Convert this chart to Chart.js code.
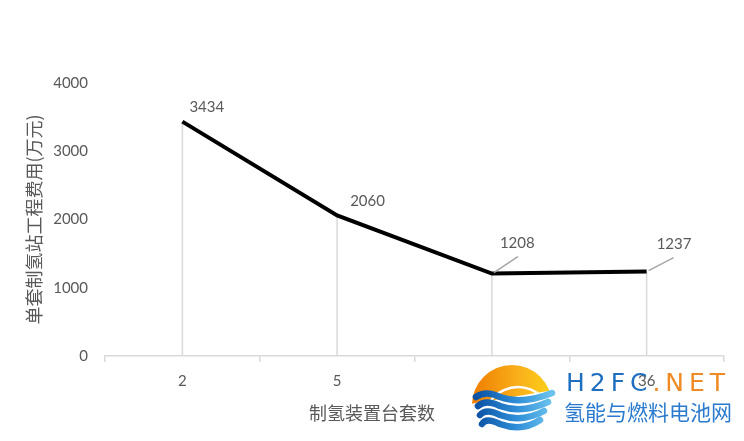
<!DOCTYPE html>
<html>
<head>
<meta charset="utf-8">
<script src="https://cdn.jsdelivr.net/npm/chart.js@4.4.1/dist/chart.umd.min.js"></script>
<style>
  html, body { margin: 0; padding: 0; background: #ffffff; }
  #wrap { width: 744px; height: 441px; }
</style>
</head>
<body>
<div id="wrap"><canvas id="chart" width="744" height="441"></canvas></div>
<script>
// chart data
const unitCounts = ['2', '5', '10', '36'];
const stationCosts = [3434, 2060, 1208, 1237];
const yMin = 0;
const yMax = 4000;
const yStep = 1000;
const yTitle = '单套制氢站工程费用(万元)';
const xTitle = '制氢装置台套数';

const textColor = '#595959';
const numFont = 'Lato, "Noto Sans CJK SC", sans-serif';
const cjkFont = '"Noto Sans CJK SC", sans-serif';

// vertical drop lines from each point down to the axis
const dropLines = {
    id: 'dropLines',
    beforeDatasetsDraw(chart) {
        const ctx = chart.ctx;
        const meta = chart.getDatasetMeta(0);
        const bottom = chart.scales.y.getPixelForValue(0);
        ctx.save();
        ctx.strokeStyle = '#d9d9d9';
        ctx.lineWidth = 1.5;
        meta.data.forEach(pt => {
            ctx.beginPath();
            ctx.moveTo(pt.x, pt.y);
            ctx.lineTo(pt.x, bottom);
            ctx.stroke();
        });
        ctx.restore();
    }
};

// value labels, with leader lines where the label sits further away
const valueLabels = {
    id: 'valueLabels',
    afterDatasetsDraw(chart, args, opts) {
        const ctx = chart.ctx;
        const meta = chart.getDatasetMeta(0);
        const values = chart.data.datasets[0].data;
        ctx.save();
        ctx.font = '15px ' + numFont;
        ctx.fillStyle = textColor;
        ctx.textBaseline = 'middle';
        ctx.textAlign = 'left';
        meta.data.forEach((pt, i) => {
            const off = opts.offsets[i];
            if (off[2]) {
                ctx.strokeStyle = '#a6a6a6';
                ctx.lineWidth = 1.5;
                ctx.beginPath();
                ctx.moveTo(pt.x + 2, pt.y - 1);
                ctx.lineTo(pt.x + off[2], pt.y - off[3]);
                ctx.stroke();
            }
            ctx.fillText(String(values[i]), pt.x + off[0], pt.y + off[1]);
        });
        ctx.restore();
    }
};

// x axis title, centred on the whole canvas like the original
const bottomTitle = {
    id: 'bottomTitle',
    afterDraw(chart, args, opts) {
        const ctx = chart.ctx;
        ctx.save();
        ctx.font = '18px ' + cjkFont;
        ctx.fillStyle = textColor;
        ctx.textAlign = 'center';
        ctx.textBaseline = 'middle';
        ctx.fillText(opts.text, chart.width / 2, opts.y);
        ctx.restore();
    }
};

// site watermark in the lower right corner
const watermark = {
    id: 'watermark',
    afterDraw(chart) {
        const ctx = chart.ctx;
        ctx.save();

        // sun
        const cx = 512, cy = 405, r = 40;
        ctx.save();
        ctx.beginPath();
        ctx.moveTo(cx - r - 2, 404);
        ctx.lineTo(cx + r + 2, 390);
        ctx.lineTo(cx + r + 2, cy - r - 2);
        ctx.lineTo(cx - r - 2, cy - r - 2);
        ctx.closePath();
        ctx.clip();
        let g = ctx.createLinearGradient(cx - r, 0, cx + r, 0);
        g.addColorStop(0, '#ef7d00');
        g.addColorStop(0.6, '#f9b11b');
        g.addColorStop(1, '#fdd116');
        ctx.fillStyle = g;
        ctx.beginPath();
        ctx.arc(cx, cy, r, 0, Math.PI * 2);
        ctx.fill();
        // inner lighter band
        ctx.strokeStyle = '#ffffff';
        ctx.lineWidth = 2.5;
        ctx.beginPath();
        ctx.arc(cx + 6, cy + 16, r - 6, Math.PI * 1.12, Math.PI * 1.75);
        ctx.stroke();
        ctx.restore();

        // waves
        const waveTops = [395, 404, 413, 422];
        waveTops.forEach((y0, i) => {
            let wg = ctx.createLinearGradient(474, 0, 552, 0);
            wg.addColorStop(0, '#0a4ea2');
            wg.addColorStop(0.55, '#2f8fd8');
            wg.addColorStop(1, '#6cc3ee');
            ctx.strokeStyle = wg;
            ctx.lineWidth = 6.5;
            ctx.lineCap = 'round';
            ctx.beginPath();
            ctx.moveTo(476 + i * 2, y0 + 2);
            ctx.quadraticCurveTo(486, y0 - 5, 500, y0 + 2);
            ctx.quadraticCurveTo(522, y0 + 10, 552 - i * 4, y0 - 2);
            ctx.stroke();
        });

        // site name
        ctx.textBaseline = 'middle';
        ctx.textAlign = 'left';
        ctx.font = '25px "DejaVu Sans", sans-serif';
        const letters = 'H2FC.NET'.split('');
        const startX = 566, endX = 725;
        let total = 0;
        letters.forEach(ch => total += ctx.measureText(ch).width);
        const gap = (endX - startX - total) / (letters.length - 1);
        let x = startX;
        letters.forEach((ch, i) => {
            ctx.fillStyle = i < 4 ? '#1f6fc1' : '#f08a24';
            ctx.fillText(ch, x, 384);
            x += ctx.measureText(ch).width + gap;
        });

        ctx.font = '21px ' + cjkFont;
        ctx.fillStyle = '#2a7bcf';
        ctx.fillText('氢能与燃料电池网', 564, 412);
        ctx.restore();
    }
};

const chart = new Chart(document.getElementById('chart'), {
    type: 'line',
    data: {
        labels: unitCounts,
        datasets: [{
            data: stationCosts,
            borderColor: '#000000',
            borderWidth: 4,
            pointRadius: 0,
            tension: 0,
            fill: false
        }]
    },
    options: {
        responsive: false,
        devicePixelRatio: 1,
        animation: false,
        layout: { padding: { top: 83, right: 20, left: 0, bottom: 41 } },
        plugins: {
            legend: { display: false },
            tooltip: { enabled: false },
            bottomTitle: { text: xTitle, y: 413 },
            valueLabels: {
                offsets: [[7, -14], [13, -14], [8, -30, 26, 17], [10, -27, 27, 14]]
            }
        },
        scales: {
            x: {
                offset: true,
                grid: {
                    offset: true,
                    drawOnChartArea: false,
                    drawTicks: true,
                    tickLength: 6,
                    color: '#d9d9d9',
                    lineWidth: 1.5
                },
                border: { display: true, color: '#d9d9d9', width: 1.5 },
                ticks: {
                    color: textColor,
                    padding: 10,
                    font: { family: numFont, size: 15 }
                }
            },
            y: {
                min: yMin,
                max: yMax,
                ticks: {
                    stepSize: yStep,
                    color: textColor,
                    padding: 17,
                    font: { family: numFont, size: 15 },
                    callback: value => String(value)
                },
                grid: { display: false, drawTicks: false },
                border: { display: false },
                title: {
                    display: true,
                    text: yTitle,
                    color: textColor,
                    font: { family: cjkFont, size: 18, weight: 'normal' },
                    padding: { top: 23, bottom: 0 }
                },
                afterFit(scale) {
                    scale.width = 105;
                }
            }
        }
    },
    plugins: [dropLines, valueLabels, bottomTitle, watermark]
});
</script>
</body>
</html>
